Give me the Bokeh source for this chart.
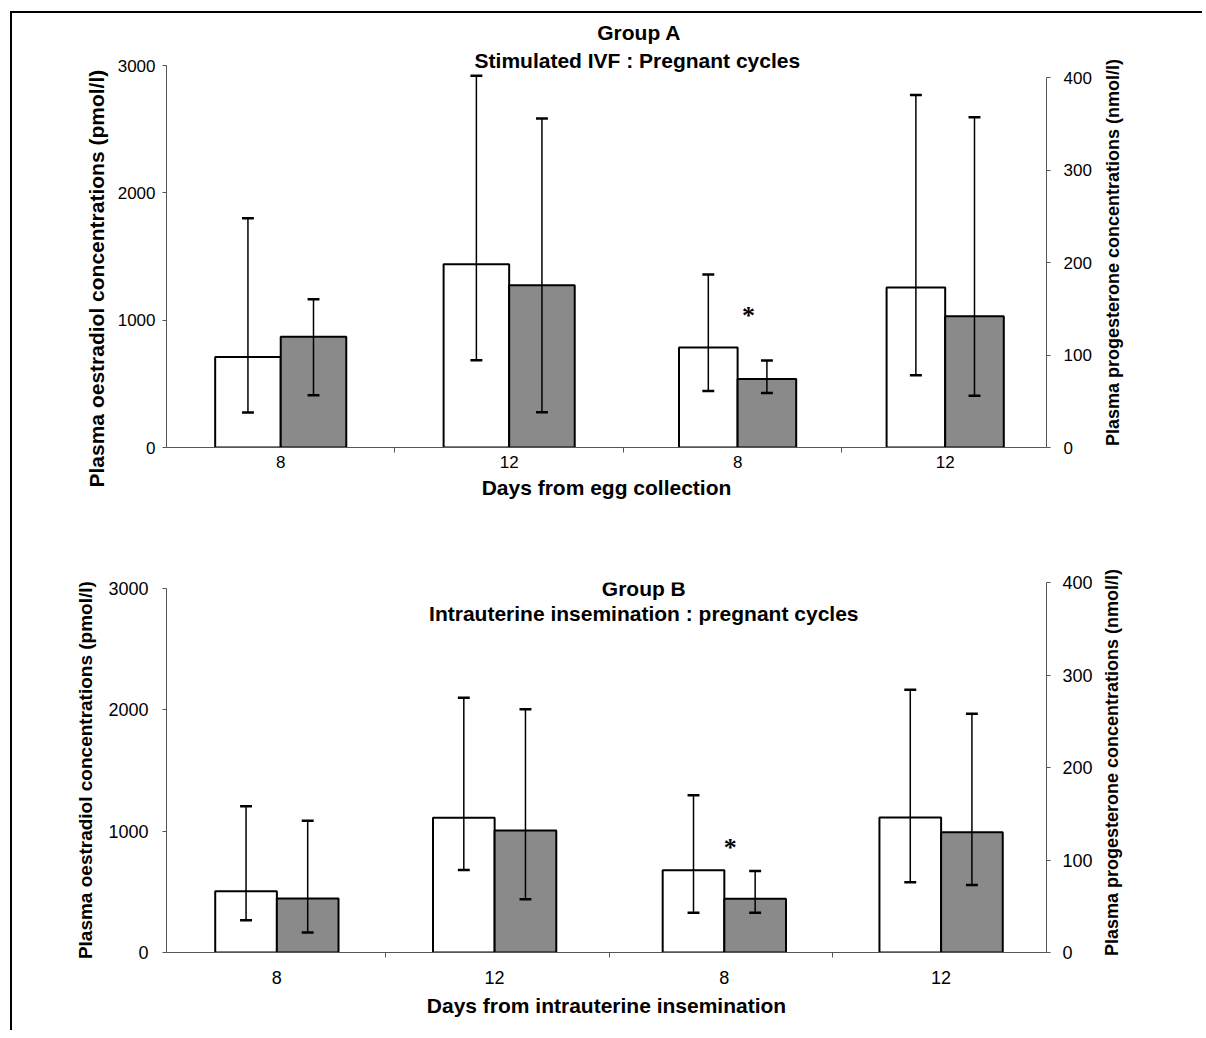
import math
from bokeh.plotting import figure
from bokeh.models import Range1d, LinearAxis, FixedTicker, Label, Title
from bokeh.layouts import column
from bokeh.embed import file_html
from bokeh.resources import INLINE

# ---------------- data ----------------
days = ["8", "12"]

# Group A (stimulated IVF, pregnant cycles)
a_e2_white = [710, 1440]
a_e2_white_lo = [275, 685]
a_e2_white_hi = [1800, 2920]
a_e2_grey = [870, 1275]
a_e2_grey_lo = [410, 276]
a_e2_grey_hi = [1165, 2583]
a_p4_white = [108, 173]
a_p4_white_lo = [61, 78]
a_p4_white_hi = [187, 381]
a_p4_grey = [74, 142]
a_p4_grey_lo = [59, 56]
a_p4_grey_hi = [94, 357]
a_star = 143

# Group B (intrauterine insemination, pregnant cycles)
b_e2_white = [505, 1110]
b_e2_white_lo = [265, 680]
b_e2_white_hi = [1205, 2100]
b_e2_grey = [445, 1005]
b_e2_grey_lo = [165, 438]
b_e2_grey_hi = [1085, 2005]
b_p4_white = [89, 146]
b_p4_white_lo = [43, 76]
b_p4_white_hi = [170, 284]
b_p4_grey = [58, 130]
b_p4_grey_lo = [43, 73]
b_p4_grey_hi = [88, 258]
b_star = 114

e2_ticks = [0, 1000, 2000, 3000]
p4_ticks = [0, 100, 200, 300, 400]

E2_TITLE = "Plasma oestradiol  concentrations (pmol/l)"
P4_TITLE = "Plasma progesterone concentrations (nmol/l)"

FONT = "Liberation Sans"
GREY = "#8a8a8a"
AXC = "#555555"
X0 = 12      # page x of the figures' left edge
WIDTH = 1190


def style_text_axis(ax, tick_size, standoff):
    ax.axis_line_color = AXC
    ax.axis_line_width = 1
    ax.major_tick_out = 4
    ax.major_tick_in = 0
    ax.minor_tick_out = 0
    ax.minor_tick_in = 0
    ax.major_tick_line_color = AXC
    ax.major_label_text_font = FONT
    ax.major_label_text_font_size = tick_size
    ax.major_label_text_color = "black"
    ax.major_label_standoff = standoff
    ax.axis_label_text_font = FONT
    ax.axis_label_text_font_style = "bold"
    ax.axis_label_text_color = "black"


def make_panel(y_top, height, fl, fr, ft, fb, y3000, y400, centers, bw_left, bw_right,
               e2, p4, titles, xtitle, star, star_dx, tick_size,
               left_std, right_std, xlab_standoff, xtitle_standoff,
               left_title_size, right_title_size, left_title_std,
               right_title_pos, left_title_offset=None):
    left_end = 3000 * (fb - ft) / (fb - y3000)
    right_end = 400 * (fb - ft) / (fb - y400)
    p = figure(width=WIDTH, height=height, output_backend="svg",
               toolbar_location=None, x_range=Range1d(fl, fr),
               y_range=Range1d(0, left_end),
               min_border_left=fl - X0, min_border_right=X0 + WIDTH - fr,
               min_border_top=ft - y_top, min_border_bottom=y_top + height - fb)
    p.extra_y_ranges = {"p4": Range1d(0, right_end)}
    p.xgrid.visible = False
    p.ygrid.visible = False
    p.outline_line_color = None
    p.background_fill_color = "white"
    p.border_fill_color = "white"

    def y_of(py):
        return (fb - py) / (fb - ft) * left_end

    # bars + error bars
    series = [(e2, None, centers[:2], bw_left), (p4, "p4", centers[2:], bw_right)]
    for (vals, rname, cs, bw) in series:
        w, wlo, whi, g, glo, ghi = vals
        kw = {} if rname is None else {"y_range_name": rname}
        xw = [c - bw / 2 for c in cs]
        xg = [c + bw / 2 for c in cs]
        p.vbar(x=xw, top=w, bottom=0, width=bw, fill_color="white",
               line_color="black", line_width=2, **kw)
        p.vbar(x=xg, top=g, bottom=0, width=bw, fill_color=GREY,
               line_color="black", line_width=2, **kw)
        for xs, lo, hi in ((xw, wlo, whi), (xg, glo, ghi)):
            p.segment(x0=xs, x1=xs, y0=lo, y1=hi, line_color="black",
                      line_width=1.5, **kw)
            for ends in (lo, hi):
                p.segment(x0=[x - 6 for x in xs], x1=[x + 6 for x in xs],
                          y0=ends, y1=ends, line_color="black", line_width=2.5, **kw)

    # significance asterisk
    p.text(x=[centers[2] + star_dx], y=[star], text=["*"], text_align="center",
           text_baseline="middle", text_font_size="26px", text_font_style="bold",
           text_font=FONT, text_color="black", y_range_name="p4")

    # left axis
    la = p.yaxis[0]
    la.ticker = FixedTicker(ticks=e2_ticks)
    la.bounds = (0, 3000)
    style_text_axis(la, tick_size, left_std)
    if left_title_offset is None:
        la.axis_label = E2_TITLE
        la.axis_label_text_font_size = left_title_size
        la.axis_label_standoff = left_title_std
    else:
        p.add_layout(Title(text=E2_TITLE, align="left", offset=left_title_offset,
                           standoff=left_title_std, text_font=FONT,
                           text_font_size=left_title_size, text_font_style="bold",
                           text_color="black"), "left")

    # right axis (title drawn as a rotated label reading bottom-to-top)
    ra = LinearAxis(y_range_name="p4", ticker=FixedTicker(ticks=p4_ticks),
                    bounds=(0, 400))
    p.add_layout(ra, "right")
    style_text_axis(ra, tick_size, right_std)
    rx, ry = right_title_pos
    p.add_layout(Label(x=rx, y=y_of(ry), text=P4_TITLE, angle=math.pi / 2,
                       text_align="center", text_baseline="middle", text_font=FONT,
                       text_font_size=right_title_size, text_font_style="bold",
                       text_color="black"), "right")

    # x axis
    xa = p.xaxis[0]
    bounds = [(centers[i] + centers[i + 1]) / 2 for i in range(3)]
    xa.ticker = FixedTicker(ticks=centers, minor_ticks=bounds)
    xa.major_label_overrides = {c: d for c, d in zip(centers, days + days)}
    xa.axis_line_color = AXC
    xa.major_tick_out = 0
    xa.major_tick_in = 0
    xa.minor_tick_out = 5
    xa.minor_tick_in = 0
    xa.minor_tick_line_color = AXC
    xa.major_label_text_font = FONT
    xa.major_label_text_font_size = tick_size
    xa.major_label_text_color = "black"
    xa.major_label_standoff = xlab_standoff
    xa.axis_label = xtitle
    xa.axis_label_text_font = FONT
    xa.axis_label_text_font_size = "21px"
    xa.axis_label_text_font_style = "bold"
    xa.axis_label_text_color = "black"
    xa.axis_label_standoff = xtitle_standoff

    for (txt, px, py) in titles:
        p.add_layout(Label(x=px, y=y_of(py), text=txt, text_align="center",
                           text_baseline="middle", text_font=FONT,
                           text_font_size="21px", text_font_style="bold",
                           text_color="black"))
    return p


p1 = make_panel(
    y_top=13, height=502, fl=166, fr=1052, ft=18, fb=447, y3000=65, y400=77,
    centers=[281, 511, 741, 950], bw_left=66, bw_right=59,
    e2=(a_e2_white, a_e2_white_lo, a_e2_white_hi, a_e2_grey, a_e2_grey_lo, a_e2_grey_hi),
    p4=(a_p4_white, a_p4_white_lo, a_p4_white_hi, a_p4_grey, a_p4_grey_lo, a_p4_grey_hi),
    titles=[("Group A", 642, 32), ("Stimulated  IVF : Pregnant cycles", 643, 60)],
    xtitle="Days from egg collection", star=a_star, star_dx=11, tick_size="17px",
    left_std=7, right_std=13, xlab_standoff=3, xtitle_standoff=5,
    left_title_size="21px", right_title_size="18px",
    left_title_std=14, right_title_pos=(1119, 252), left_title_offset=-40)

p2 = make_panel(
    y_top=515, height=515, fl=161, fr=1046, ft=582, fb=952, y3000=588, y400=582,
    centers=[272, 491, 722, 940], bw_left=62, bw_right=62,
    e2=(b_e2_white, b_e2_white_lo, b_e2_white_hi, b_e2_grey, b_e2_grey_lo, b_e2_grey_hi),
    p4=(b_p4_white, b_p4_white_lo, b_p4_white_hi, b_p4_grey, b_p4_grey_lo, b_p4_grey_hi),
    titles=[("Group B", 641, 588), ("Intrauterine insemination : pregnant cycles", 641, 613)],
    xtitle="Days from intrauterine insemination", star=b_star, star_dx=6, tick_size="18px",
    left_std=14, right_std=12, xlab_standoff=13, xtitle_standoff=7,
    left_title_size="19px", right_title_size="18px",
    left_title_std=9, right_title_pos=(1112, 762))

layout = column(p1, p2, spacing=0, margin=(11, 0, 0, 10),
                styles={"border-top": "2px solid black", "border-left": "2px solid black"})

open("out.html", "w").write(file_html(layout, INLINE))
